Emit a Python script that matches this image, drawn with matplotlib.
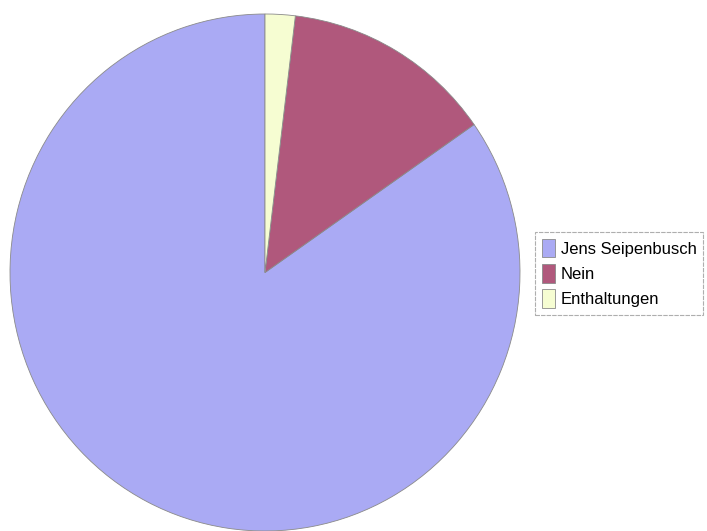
import matplotlib
matplotlib.use('Agg')
import matplotlib.pyplot as plt

plt.rcParams['font.family'] = ['Liberation Sans', 'DejaVu Sans']

labels = ['Jens Seipenbusch', 'Nein', 'Enthaltungen']
shares = [84.7, 13.4, 1.9]  # percent
colors = ['#aaaaf4', '#b0587c', '#f6fdd2']

W, H = 707, 531
fig = plt.figure(figsize=(W/100, H/100), dpi=100)

# pie is slightly taller than wide, so let the axes stretch it
ax = fig.add_axes([10/W, 0/H, 510/W, 517/H])
wedges, _ = ax.pie(shares, colors=colors, startangle=90, counterclock=True,
                   wedgeprops=dict(edgecolor='#8a8a8a', linewidth=0.6))
ax.set_aspect('auto')
ax.set_xlim(-1.0, 1.0)
ax.set_ylim(-1.0, 1.0)
ax.axis('off')

leg = fig.legend(wedges, labels, loc='upper left',
                 bbox_to_anchor=(535/W, 1 - 232/H),
                 fontsize=12, frameon=True, fancybox=False,
                 handlelength=0.8, handleheight=1.35, handletextpad=0.35,
                 labelspacing=0.4, borderpad=0.4, borderaxespad=0)
leg.get_frame().set_edgecolor('#9a9a9a')
leg.get_frame().set_linewidth(0.8)
leg.get_frame().set_linestyle((0, (4, 1)))

fig.savefig('out.png', dpi=100)
